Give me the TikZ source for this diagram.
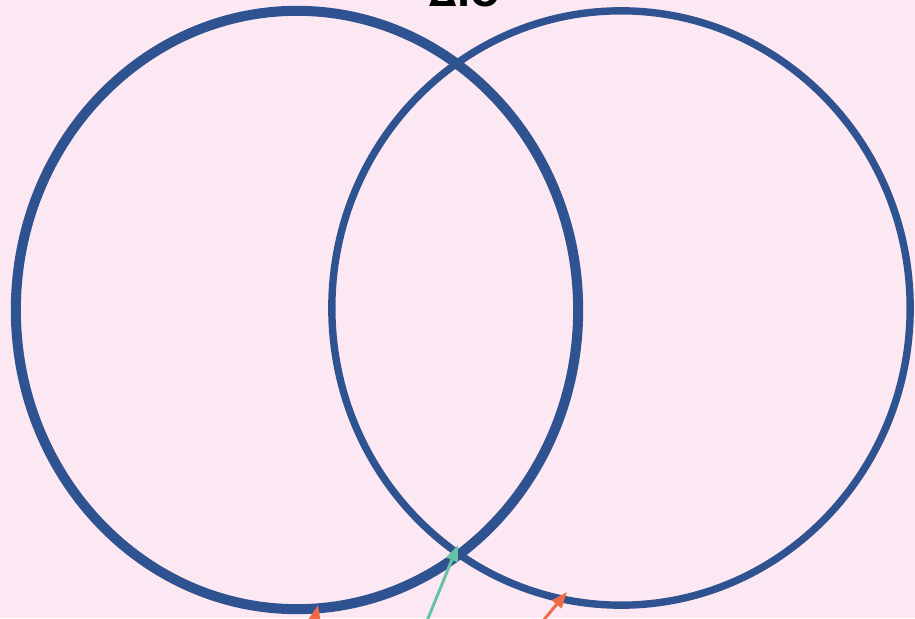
\documentclass[tikz,border=0pt]{standalone}
\usepackage{fontspec}
\setsansfont{DejaVu Sans}
\usepackage{xcolor}
\usepackage{tikz}
\usetikzlibrary{arrows.meta}
\definecolor{VBg}{HTML}{FCE8F2}
\definecolor{VBlue}{HTML}{2F5391}
\definecolor{VTeal}{HTML}{66C2A5}
\definecolor{VOrange}{HTML}{F06A48}
\tikzset{
  setring/.style={draw=VBlue,line width=#1},
  ptr/.style={draw=#1,line width=0.85pt,-{Triangle[length=4.6pt,width=3.4pt]}},
  ttl/.style={font=\sffamily\bfseries\fontsize{10}{12}\selectfont,anchor=base}
}

\begin{document}
\begin{tikzpicture}[x=0.01cm,y=0.01cm]
  \fill[VBg](0,0) rectangle (915,618);
  \useasboundingbox (0,0) rectangle (915,618);
  % sets
  \draw[setring=2.85pt](297,308) ellipse [x radius=2.81cm,y radius=2.99cm];
  \draw[setring=2.1pt](621,310) ellipse [x radius=2.89cm,y radius=2.97cm];
  \node[ttl] (title) at (465,611){ΔΙΟ};
  % pointers
  \coordinate (tA) at (420,-20);
  \coordinate (hA) at (458,73);
  \coordinate (tB) at (537,-10);
  \coordinate (hB) at (567,26);
  \coordinate (tC) at (313,-10);
  \coordinate (hC) at (318,13);
  \draw[ptr=VTeal](tA) -- (hA);
  \draw[ptr=VOrange](tB) -- (hB);
  \draw[ptr=VOrange](tC) -- (hC);
\end{tikzpicture}
\end{document}
